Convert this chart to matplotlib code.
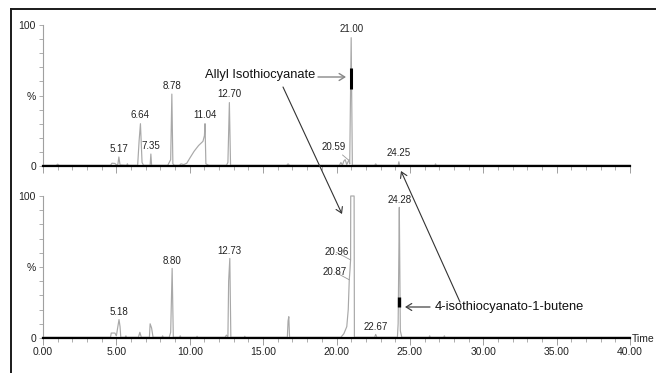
import matplotlib
matplotlib.use("Agg")
import matplotlib.pyplot as plt
from matplotlib.lines import Line2D
from matplotlib.patches import FancyArrowPatch
from matplotlib.ticker import MultipleLocator

plt.rcParams['font.family'] = ['Liberation Sans', 'DejaVu Sans']

# ---------------- data ----------------
top_time = [0.0, 0.9, 1.0, 1.1, 4.6, 4.7, 4.9, 5.0, 5.1, 5.17, 5.25, 5.7, 5.75, 5.8,
            6.45, 6.55, 6.64, 6.75, 6.85, 7.3, 7.35, 7.4, 8.5, 8.7, 8.78, 8.85, 8.95,
            9.3, 9.4, 9.6, 9.8, 10.0, 10.3, 10.6, 10.9, 11.0, 11.04, 11.1, 11.3,
            12.5, 12.6, 12.70, 12.78, 16.6, 16.7, 16.8, 20.2, 20.3, 20.4, 20.5, 20.59,
            20.7, 20.85, 20.9, 21.0, 21.08, 22.6, 22.67, 22.75, 24.2, 24.25, 24.3,
            26.7, 26.75, 26.8, 40.0]
top_int = [0.5, 0.5, 1.3, 0.5, 0.5, 2.0, 1.8, 0.8, 1.0, 6.4, 0.8, 0.5, 1.6, 0.5,
           0.5, 18, 30, 2.5, 0.5, 0.5, 8.5, 0.5, 0.5, 4.5, 51, 1.5, 0.5,
           0.5, 1.5, 1.0, 2.0, 5.5, 10.5, 14.5, 17.5, 21.5, 30, 1.5, 0.5,
           0.5, 2.5, 45, 0.5, 0.5, 1.5, 0.5, 0.5, 2.5, 0.5, 3.5, 4.5,
           1.0, 4.5, 1.5, 91, 0.5, 0.5, 1.5, 0.5, 0.5, 3.0, 0.5,
           0.5, 1.5, 0.5, 0.5]

bot_time = [0.0, 4.6, 4.65, 4.9, 5.0, 5.1, 5.18, 5.25, 5.3, 5.6, 5.65, 5.7, 6.5, 6.6,
            6.7, 7.25, 7.3, 7.4, 7.5, 8.1, 8.15, 8.2, 8.6, 8.7, 8.80, 8.88, 9.3, 9.35,
            9.4, 10.45, 10.5, 10.55, 12.4, 12.5, 12.6, 12.65, 12.73, 12.8, 13.7, 13.75,
            13.8, 16.65, 16.7, 16.75, 16.8, 20.3, 20.5, 20.7, 20.8, 20.87, 20.92, 20.96,
            20.97, 21.2, 21.22, 21.5, 22.6, 22.67, 22.75, 24.15, 24.2, 24.25, 24.28,
            24.35, 24.45, 26.3, 26.35, 26.4, 27.3, 27.35, 27.4, 40.0]
bot_int = [0.5, 0.5, 3.5, 3.5, 1.5, 8, 13, 8, 0.5, 0.5, 1.5, 0.5, 0.5, 4,
           0.5, 0.5, 10, 7, 0.5, 0.5, 1.5, 0.5, 0.5, 4, 49, 0.5, 0.5, 1.5,
           0.5, 0.5, 1.2, 0.5, 0.5, 2, 0.5, 40, 56, 0.5, 0.5, 1.2,
           0.5, 0.5, 12, 15, 0.5, 0.5, 3, 8, 20, 41, 48, 55,
           100, 100, 0.5, 0.5, 0.5, 2.5, 0.5, 0.5, 10, 60, 92,
           5, 0.5, 0.5, 1.5, 0.5, 0.5, 1.5, 0.5, 0.5]

top_labels_rt = [5.17, 6.64, 7.35, 8.78, 11.04, 12.70, 21.00, 24.25]
top_labels_h = [6.4, 30, 8.5, 51, 30, 45, 91, 3.0]
bot_labels_rt = [5.18, 8.80, 12.73, 22.67, 24.28]
bot_labels_h = [13, 49, 56, 2.5, 92]

# leader-line labels: (label text rt, shoulder height)
top_leader_rt = [20.59]
top_leader_h = [4.5]
bot_leader_rt = [20.96, 20.87]
bot_leader_h = [55, 41]

# black highlight segments on the identified peaks
top_mark_rt, top_mark_lo, top_mark_hi = 21.00, 54.6, 69.5
bot_mark_rt, bot_mark_lo, bot_mark_hi = 24.28, 22, 29

x_ticks = [0, 5, 10, 15, 20, 25, 30, 35, 40]
x_tick_labels = ['0.00', '5.00', '10.00', '15.00', '20.00', '25.00', '30.00', '35.00', '40.00']

# ---------------- figure ----------------
W, H = 656, 373
fig = plt.figure(figsize=(W / 100, H / 100), dpi=100)


def fx(px):
    return px / W


def fy(py):
    return 1 - py / H


ax1 = fig.add_axes([fx(43), fy(166), fx(630) - fx(43), fy(25) - fy(166)])
ax2 = fig.add_axes([fx(43), fy(338), fx(630) - fx(43), fy(196) - fy(338)])

grey = '#a8a8a8'
for ax in (ax1, ax2):
    ax.set_xlim(0, 40)
    ax.set_ylim(0, 100)
    ax.patch.set_visible(False)
    for s in ('top', 'right'):
        ax.spines[s].set_visible(False)
    ax.spines['bottom'].set_color('black')
    ax.spines['bottom'].set_linewidth(1.6)
    ax.spines['left'].set_color('#a0a0a0')
    ax.spines['left'].set_linewidth(0.8)
    ax.set_xticks(x_ticks)
    ax.xaxis.set_minor_locator(MultipleLocator(1))
    ax.tick_params(axis='x', which='major', length=5, width=0.7, color='#a0a0a0',
                   labelsize=7.5, pad=1.5, labelcolor='#222222')
    ax.tick_params(axis='x', which='minor', length=3, width=0.6, color='#a0a0a0')
    ax.set_yticks([0, 50, 100])
    ax.set_yticklabels(['0', '%', '100'])
    ax.yaxis.set_minor_locator(MultipleLocator(10))
    ax.tick_params(axis='y', which='major', length=3, width=0.6, color='#a0a0a0',
                   labelsize=7.5, pad=2, labelcolor='#222222')
    ax.tick_params(axis='y', which='minor', length=3, width=0.6, color='#a0a0a0')

ax1.set_xticklabels([])
ax2.set_xticklabels(x_tick_labels)

ax1.plot(top_time, top_int, color=grey, lw=0.85, zorder=2, clip_on=False)
ax2.plot(bot_time, bot_int, color=grey, lw=0.85, zorder=2, clip_on=False)

ax1.plot([top_mark_rt, top_mark_rt], [top_mark_lo, top_mark_hi], color='black', lw=2.2, zorder=3,
         solid_capstyle='butt')
ax2.plot([bot_mark_rt, bot_mark_rt], [bot_mark_lo, bot_mark_hi], color='black', lw=2.4, zorder=3,
         solid_capstyle='butt')

lab_kw = dict(fontsize=7, color='#222222', ha='center', va='bottom', textcoords='offset points')
for rt, h in zip(top_labels_rt, top_labels_h):
    ax1.annotate(f'{rt:.2f}', xy=(rt, h), xytext=(0, 2.5), annotation_clip=False, **lab_kw)
for rt, h in zip(bot_labels_rt, bot_labels_h):
    ax2.annotate(f'{rt:.2f}', xy=(rt, h), xytext=(0, 1.5), annotation_clip=False, **lab_kw)

lead_kw = dict(fontsize=7, color='#222222', ha='right', va='center', textcoords='offset points',
               arrowprops=dict(arrowstyle='-', color='#999999', lw=0.6, shrinkA=0, shrinkB=0))
for rt, h in zip(top_leader_rt, top_leader_h):
    ax1.annotate(f'{rt:.2f}', xy=(rt + 0.2, h), xytext=(-2, 9), annotation_clip=False, **lead_kw)
for rt, h in zip(bot_leader_rt, bot_leader_h):
    ax2.annotate(f'{rt:.2f}', xy=(rt, h), xytext=(-1.5, 5.5), annotation_clip=False, **lead_kw)

ax2.text(40.15, -0.8, 'Time', fontsize=7.5, color='#222222', ha='left', va='center')

# ---------------- frame ----------------
fig.add_artist(Line2D([fx(11), fx(11)], [fy(9), 0], color='#1a1a1a', lw=1.4))
fig.add_artist(Line2D([fx(11), 1], [fy(9), fy(9)], color='#1a1a1a', lw=1.4))

# ---------------- compound annotations ----------------
fig.text(fx(205), fy(75), 'Allyl Isothiocyanate', fontsize=9.3, color='#111111',
         ha='left', va='center')
fig.add_artist(FancyArrowPatch((fx(318), fy(77)), (fx(346), fy(77)), transform=fig.transFigure,
                               arrowstyle='->,head_length=4,head_width=2.5', color='#888888',
                               lw=1.0, shrinkA=0, shrinkB=0))
fig.add_artist(FancyArrowPatch((fx(283), fy(87)), (fx(342), fy(214)), transform=fig.transFigure,
                               arrowstyle='->,head_length=4,head_width=2.5', color='#333333',
                               lw=0.8, shrinkA=0, shrinkB=0))

fig.text(fx(435), fy(307), '4-isothiocyanato-1-butene', fontsize=9.3, color='#111111',
         ha='left', va='center')
fig.add_artist(FancyArrowPatch((fx(430), fy(307)), (fx(405), fy(307)), transform=fig.transFigure,
                               arrowstyle='->,head_length=4,head_width=2.5', color='#444444',
                               lw=0.9, shrinkA=0, shrinkB=0))
fig.add_artist(FancyArrowPatch((fx(460), fy(302)), (fx(401), fy(171)), transform=fig.transFigure,
                               arrowstyle='->,head_length=4,head_width=2.5', color='#333333',
                               lw=0.8, shrinkA=0, shrinkB=0))

fig.savefig('out.png', dpi=100)
